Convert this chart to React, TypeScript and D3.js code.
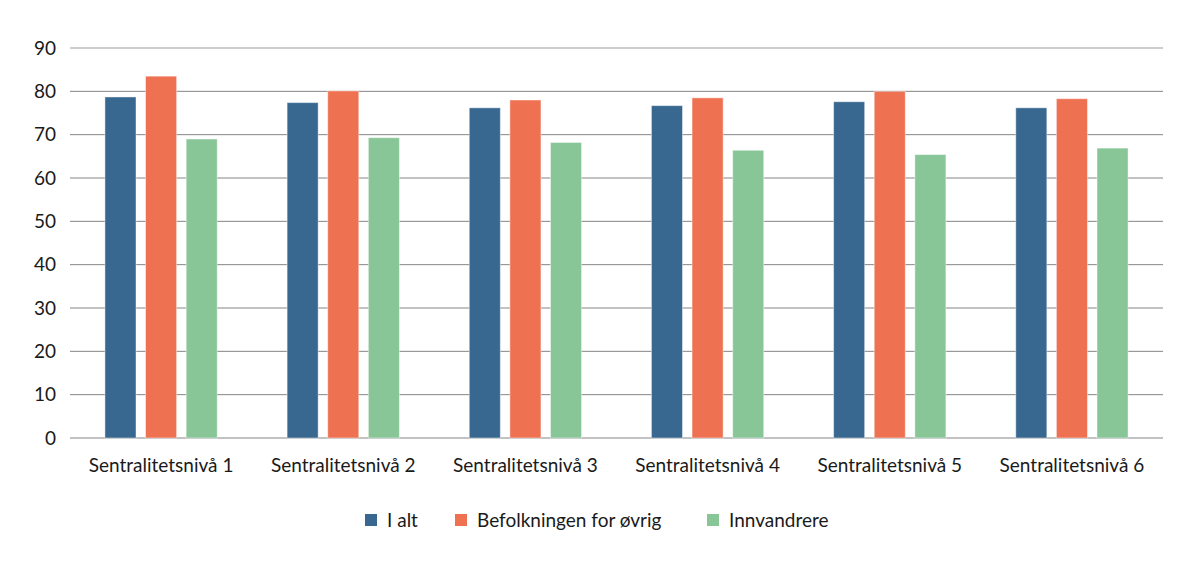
import React, { useEffect, useRef } from 'react';
import * as d3 from 'd3';

const categories = [
  'Sentralitetsnivå 1',
  'Sentralitetsnivå 2',
  'Sentralitetsnivå 3',
  'Sentralitetsnivå 4',
  'Sentralitetsnivå 5',
  'Sentralitetsnivå 6',
];
const seriesNames = ['I alt', 'Befolkningen for øvrig', 'Innvandrere'];
const iAlt = [78.7, 77.4, 76.2, 76.7, 77.6, 76.2];
const befolkningen = [83.5, 80.1, 78.0, 78.5, 80.0, 78.3];
const innvandrere = [69.0, 69.3, 68.2, 66.4, 65.4, 66.9];
const yTicks = [0, 10, 20, 30, 40, 50, 60, 70, 80, 90];
const colors = ['#386890', '#ee7152', '#88c698'];

const W = 1198;
const H = 568;
const FONT = 'Lato, sans-serif';
const FS = '19px';

export default function App() {
  const svgRef = useRef<SVGSVGElement>(null);

  useEffect(() => {
    if (!svgRef.current) return;
    const svg = d3.select(svgRef.current);
    svg.selectAll('*').remove();

    const left = 70;
    const right = 1163;
    const top = 48;
    const bottom = 438;

    const series = [iAlt, befolkningen, innvandrere];

    const x0 = d3.scaleBand<string>().domain(categories).range([left, right]);
    const x1 = d3
      .scaleBand<number>()
      .domain([0, 1, 2])
      .range([0, x0.bandwidth()])
      .paddingInner(0.235)
      .paddingOuter(0.86);
    const y = d3.scaleLinear().domain([0, 90]).range([bottom, top]);

    // grid lines
    svg
      .append('g')
      .selectAll('line')
      .data(yTicks)
      .join('line')
      .attr('x1', left)
      .attr('x2', right)
      .attr('y1', (d) => y(d))
      .attr('y2', (d) => y(d))
      .attr('stroke', (d) => (d === 90 ? '#bdbdbd' : '#858585'))
      .attr('stroke-width', (d) => (d === 90 ? 1.3 : 1));

    // y tick labels
    svg
      .append('g')
      .selectAll('text')
      .data(yTicks)
      .join('text')
      .attr('x', 56)
      .attr('y', (d) => y(d))
      .attr('dy', '0.35em')
      .attr('text-anchor', 'end')
      .style('font-family', FONT)
      .style('font-size', FS)
      .style('fill', '#1a1a1a')
      .text((d) => d);

    // bars
    const groups = svg
      .append('g')
      .selectAll('g')
      .data(categories)
      .join('g')
      .attr('transform', (d) => `translate(${x0(d)},0)`);

    groups
      .selectAll('rect')
      .data((_, i) => series.map((s, k) => ({ k, v: s[i] })))
      .join('rect')
      .attr('x', (d) => x1(d.k)!)
      .attr('width', x1.bandwidth())
      .attr('y', (d) => y(d.v))
      .attr('height', (d) => bottom - y(d.v))
      .attr('fill', (d) => colors[d.k])
      .attr('stroke', 'rgba(255,255,255,0.45)')
      .attr('stroke-width', 1);

    // x labels
    svg
      .append('g')
      .selectAll('text')
      .data(categories)
      .join('text')
      .attr('x', (d) => x0(d)! + x0.bandwidth() / 2)
      .attr('y', 472)
      .attr('text-anchor', 'middle')
      .style('font-family', FONT)
      .style('font-size', FS)
      .style('fill', '#1a1a1a')
      .text((d) => d);

    // legend
    const legendX = [365, 455, 707];
    const lg = svg
      .append('g')
      .selectAll('g')
      .data(seriesNames)
      .join('g')
      .attr('transform', (_, i) => `translate(${legendX[i]},520)`);
    lg.append('rect')
      .attr('x', 0)
      .attr('y', -6)
      .attr('width', 12)
      .attr('height', 12)
      .attr('fill', (_, i) => colors[i]);
    lg.append('text')
      .attr('x', 22)
      .attr('y', 0)
      .attr('dy', '0.35em')
      .style('font-family', FONT)
      .style('font-size', FS)
      .style('fill', '#1a1a1a')
      .text((d) => d);
  }, []);

  return (
    <svg
      ref={svgRef}
      width={W}
      height={H}
      style={{ position: 'absolute', left: 0, top: 0, background: '#fff' }}
    />
  );
}
